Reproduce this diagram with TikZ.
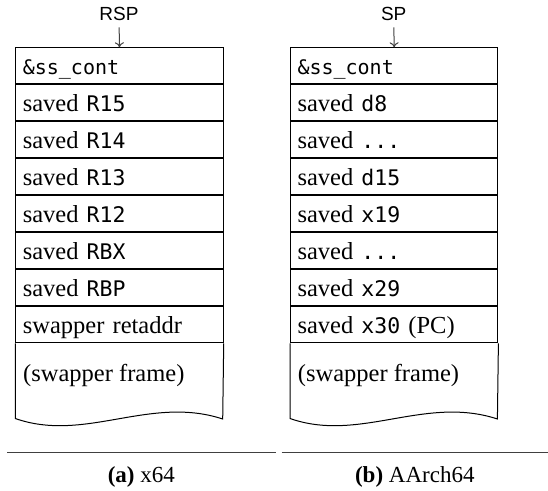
\documentclass[tikz,border=0pt]{standalone}
\usepackage{fontspec}
\setmainfont{Liberation Serif}
\setmonofont{DejaVu Sans Mono}
\setsansfont{Liberation Sans}
\usetikzlibrary{arrows.meta}
\newcommand\myreg[1]{{\fontsize{21.5}{26}\ttfamily #1}}
\newcommand\mycont{{\fontsize{20}{24}\ttfamily \&ss\_cont}}
\tikzset{
  cell/.style={draw, line width=1pt, minimum width=207.4pt, minimum height=36pt,
    inner xsep=7pt, inner ysep=0pt, text height=26.5pt, text depth=9.5pt,
    text width=193.4pt, align=left, anchor=north west,
    font=\fontsize{24.5}{28}\selectfont},
  frameline/.style={draw, line width=1pt},
  frametext/.style={anchor=base west, inner sep=0pt, font=\fontsize{24.5}{28}\selectfont},
  ptrlabel/.style={anchor=base, inner sep=0pt, font=\sffamily\fontsize{19}{22}\selectfont},
  ptrarrow/.style={draw=black!75, line width=1pt, -{To[length=5pt,width=9pt]}, shorten <=7pt},
  caprule/.style={draw=black!75, line width=1pt},
  caption/.style={anchor=base, inner sep=0pt, font=\fontsize{23}{27}\selectfont},
}
\begin{document}
\begin{tikzpicture}[x=1pt, y=-1pt]
\useasboundingbox (0,0) rectangle (548,490);
% left stack (x64)
\node[cell] (L1) at (15.3,47.3) {\mycont};
\node[cell] (L2) at (L1.south west) {saved \myreg{R15}};
\node[cell] (L3) at (L2.south west) {saved \myreg{R14}};
\node[cell] (L4) at (L3.south west) {saved \myreg{R13}};
\node[cell] (L5) at (L4.south west) {saved \myreg{R12}};
\node[cell] (L6) at (L5.south west) {saved \myreg{RBX}};
\node[cell] (L7) at (L6.south west) {saved \myreg{RBP}};
\node[cell] (L8) at (L7.south west) {swapper retaddr};
\coordinate (Lbl) at (15.3,418.5);
\coordinate (Lbr) at (222.7,419);
\draw[frameline] (L8.south west) -- (Lbl) .. controls (85,443) and (150,395) .. (Lbr) -- (L8.south east);
\node[frametext] (Lf) at (23,381.7) {(swapper frame)};
\node[ptrlabel] (rsp) at (119,20) {RSP};
\draw[ptrarrow] (rsp.south) -- (L1.north);
% right stack (AArch64)
\node[cell] (R1) at (290,47.3) {\mycont};
\node[cell] (R2) at (R1.south west) {saved \myreg{d8}};
\node[cell] (R3) at (R2.south west) {saved \myreg{...}};
\node[cell] (R4) at (R3.south west) {saved \myreg{d15}};
\node[cell] (R5) at (R4.south west) {saved \myreg{x19}};
\node[cell] (R6) at (R5.south west) {saved \myreg{...}};
\node[cell] (R7) at (R6.south west) {saved \myreg{x29}};
\node[cell] (R8) at (R7.south west) {saved \myreg{x30} (PC)};
\coordinate (Rbl) at (290,418.5);
\coordinate (Rbr) at (497.4,419);
\draw[frameline] (R8.south west) -- (Rbl) .. controls (359.7,443) and (424.7,395) .. (Rbr) -- (R8.south east);
\node[frametext] (Rf) at (297.7,381.7) {(swapper frame)};
\node[ptrlabel] (sp) at (393.7,20) {SP};
\draw[ptrarrow] (sp.south) -- (R1.north);
% captions
\coordinate (ra1) at (7,452.7);
\coordinate (ra2) at (275.7,452.7);
\coordinate (rb1) at (281.7,452.7);
\coordinate (rb2) at (548,452.7);
\draw[caprule] (ra1) -- (ra2);
\draw[caprule] (rb1) -- (rb2);
\node[caption] (capa) at (141.3,482.5) {\textbf{(a)} x64};
\node[caption] (capb) at (414.8,482.5) {\textbf{(b)} AArch64};
\end{tikzpicture}
\end{document}
